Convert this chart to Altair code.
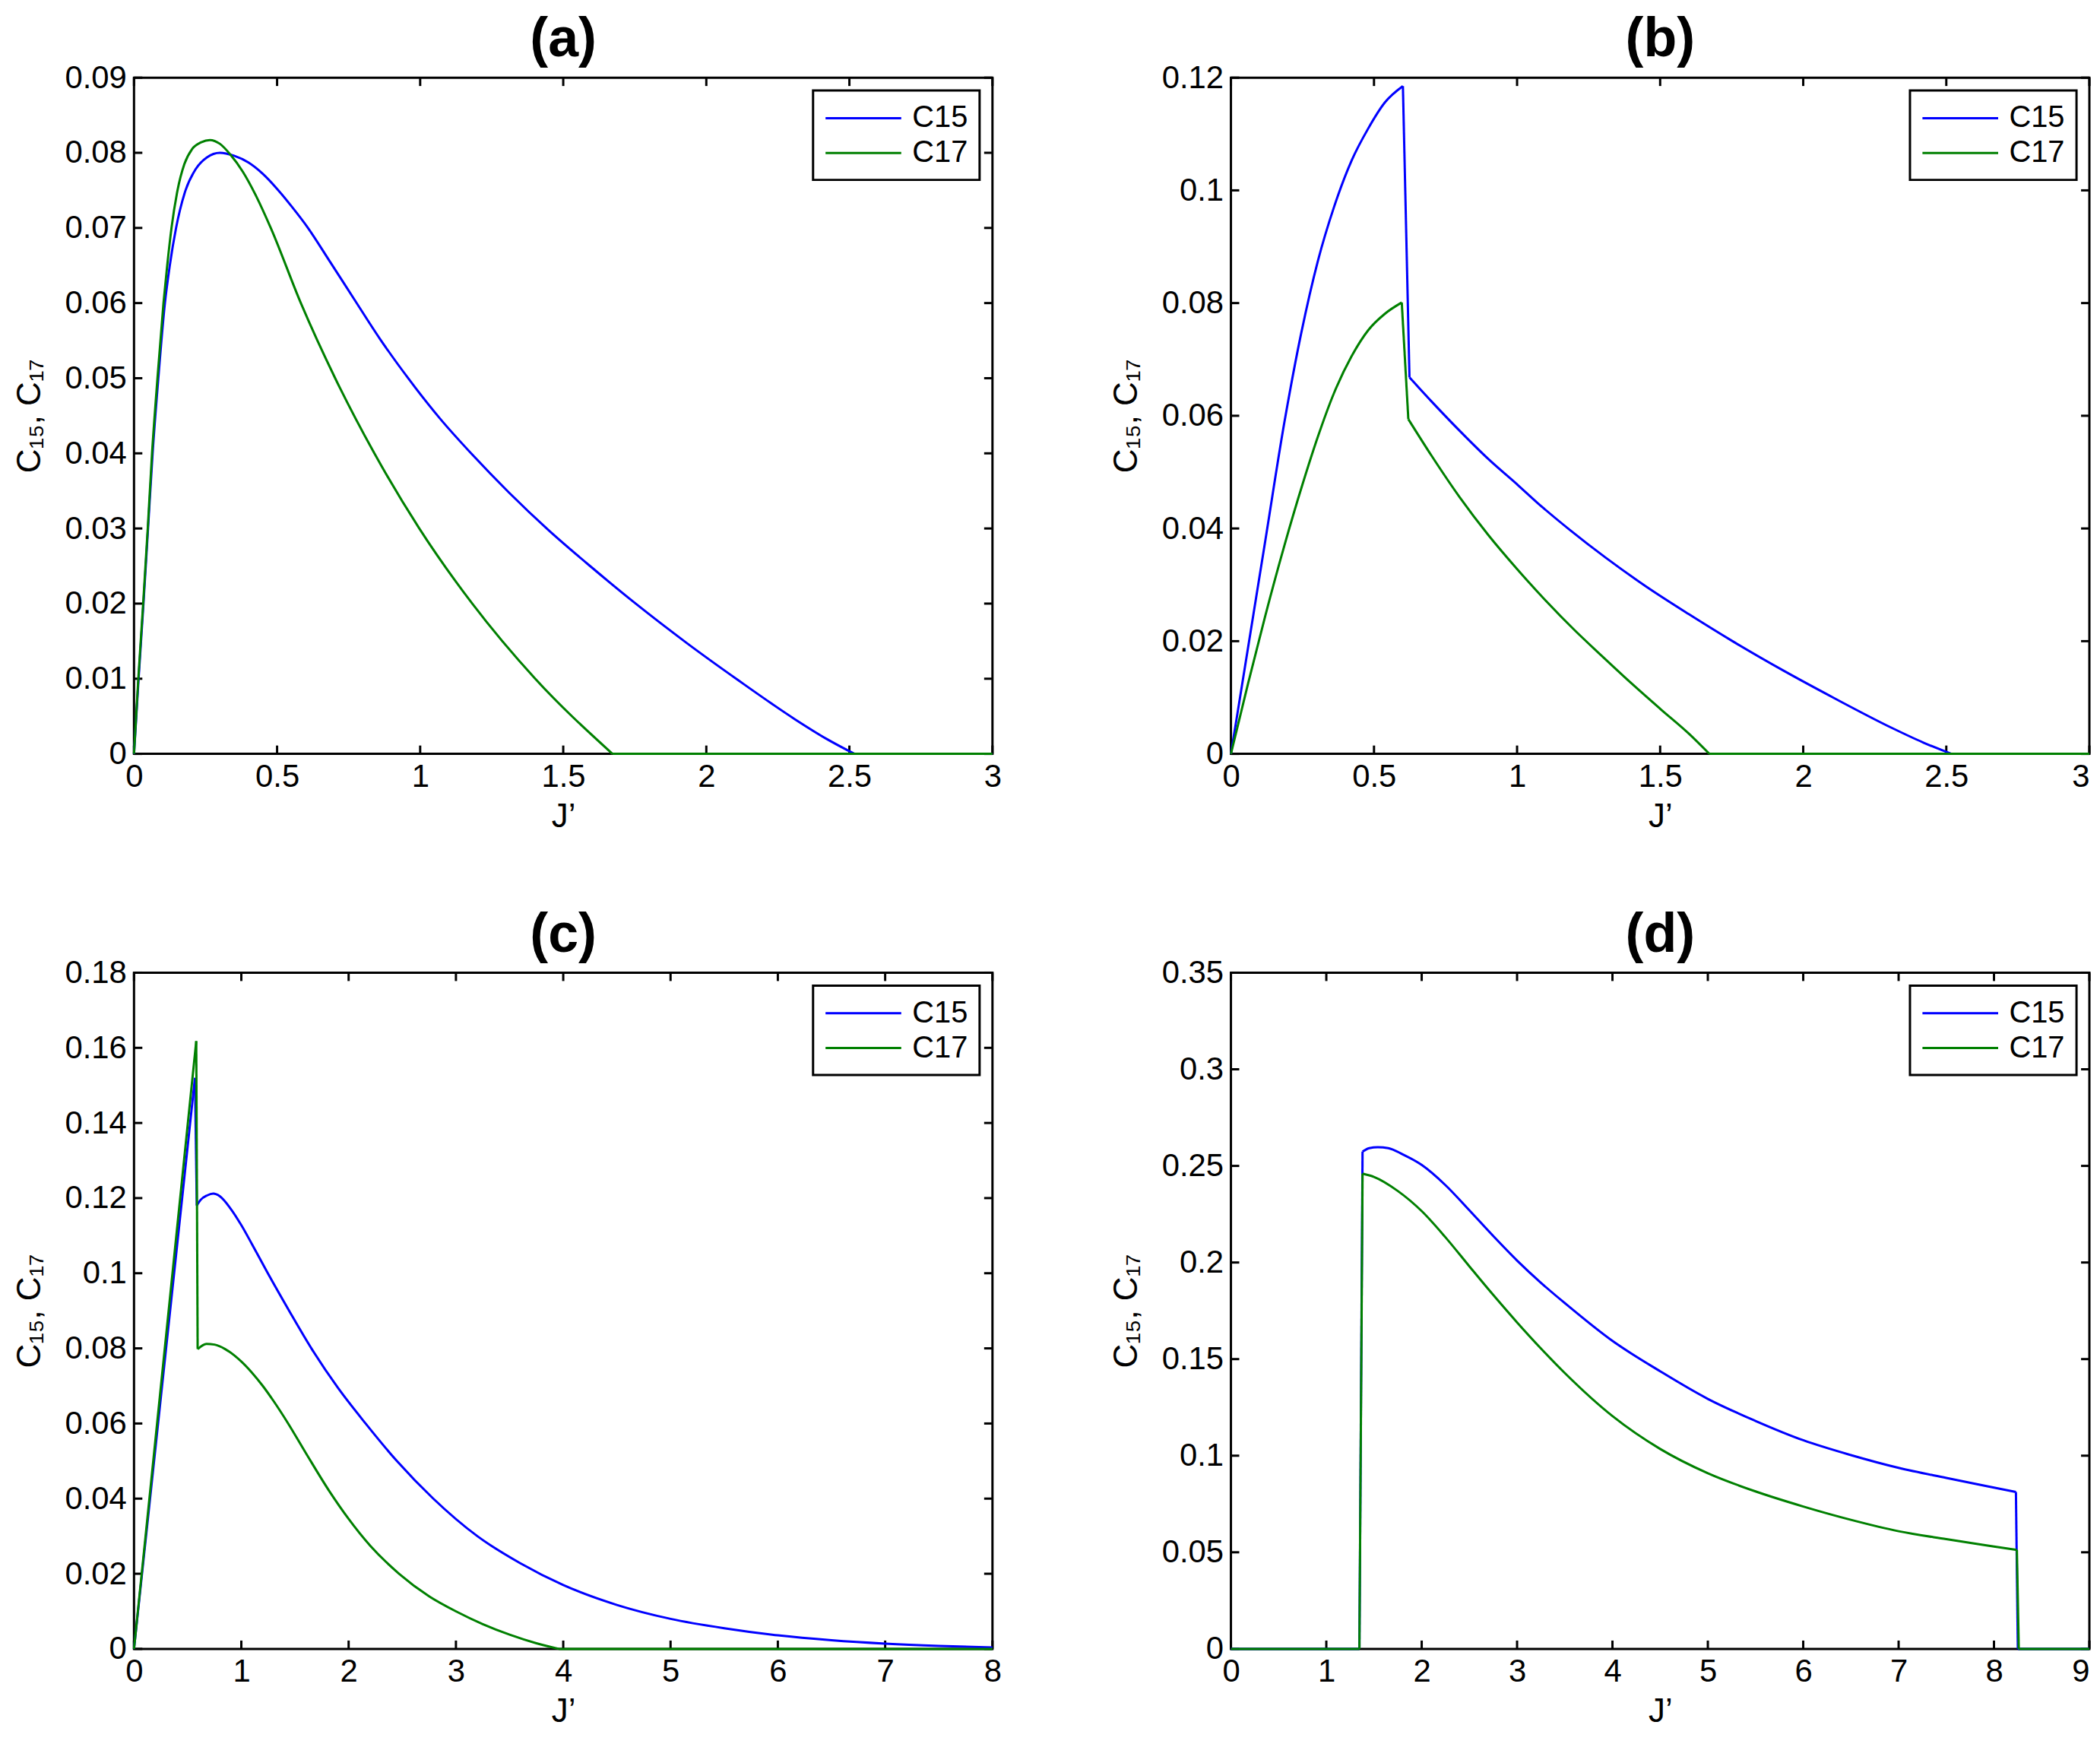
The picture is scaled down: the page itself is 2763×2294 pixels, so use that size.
import altair as alt
import pandas as pd

FONT = "Liberation Sans"
BLUE = "#0000ff"
GREEN = "#008000"
W, H = 1134, 893
TL = 11  # inward tick length

# ---------------- data ----------------
# panel (a)
a15_x = [0, 0.016, 0.033, 0.049, 0.065, 0.085, 0.108, 0.125, 0.147, 0.18, 0.215, 0.255, 0.30, 0.35, 0.40,
         0.45, 0.5, 0.55, 0.608, 0.68, 0.768, 0.86, 0.958, 1.07, 1.183, 1.31, 1.448, 1.6, 1.753, 1.93,
         2.108, 2.31, 2.42, 2.518, 3.0]
a15_y = [0, 0.01, 0.02, 0.03, 0.04, 0.05, 0.06, 0.065, 0.07, 0.075, 0.0778, 0.0794, 0.0800, 0.0796, 0.0787,
         0.0772, 0.0752, 0.0729, 0.0700, 0.0658, 0.0606, 0.0552, 0.0500, 0.0446, 0.0398, 0.0348, 0.0298,
         0.0248, 0.0200, 0.0148, 0.0099, 0.0046, 0.0020, 0, 0]
a15_breaks = [2.518]
a17_x = [0, 0.015, 0.032, 0.048, 0.063, 0.082, 0.103, 0.116, 0.131, 0.152, 0.176, 0.203, 0.235, 0.265, 0.30,
         0.336, 0.38, 0.43, 0.478, 0.583, 0.703, 0.84, 0.997, 1.182, 1.402, 1.672, 3.0]
a17_y = [0, 0.01, 0.02, 0.03, 0.04, 0.05, 0.06, 0.065, 0.07, 0.075, 0.0785, 0.0805, 0.0814, 0.0817, 0.0812,
         0.0798, 0.0775, 0.0740, 0.0700, 0.06, 0.05, 0.04, 0.03, 0.02, 0.01, 0, 0]
a17_breaks = [1.672]

# panel (b)
b15_x = [0, 0.06, 0.12, 0.187, 0.245, 0.304, 0.36, 0.421, 0.48, 0.538, 0.601, 0.624, 0.7, 0.8, 0.9, 1.005,
         1.07, 1.183, 1.31, 1.448, 1.6, 1.753, 1.93, 2.108, 2.31, 2.42, 2.518, 3.0]
b15_y = [0, 0.0189, 0.0378, 0.0589, 0.0745, 0.0875, 0.0970, 0.1052, 0.1110, 0.1156, 0.1185, 0.0668, 0.0626,
         0.0573, 0.0523, 0.0476, 0.0446, 0.0398, 0.0348, 0.0298, 0.0248, 0.0200, 0.0148, 0.0099, 0.0046,
         0.0020, 0, 0]
b15_breaks = [0.601, 0.624, 2.518]
b17_x = [0, 0.06, 0.12, 0.187, 0.25, 0.304, 0.36, 0.421, 0.48, 0.538, 0.597, 0.62, 0.7, 0.8, 0.9, 1.0,
         1.1, 1.2, 1.3, 1.4, 1.5, 1.6, 1.672, 3.0]
b17_y = [0, 0.0125, 0.0245, 0.0370, 0.0478, 0.0563, 0.0640, 0.0705, 0.0752, 0.0781, 0.0801, 0.0594, 0.0530,
         0.0455, 0.0388, 0.0328, 0.0272, 0.0220, 0.0172, 0.0125, 0.0080, 0.0036, 0, 0]
b17_breaks = [0.597, 0.62, 1.672]

# panel (c)
c15_x = [0, 0.1, 0.2, 0.3, 0.4, 0.5, 0.568, 0.585, 0.62, 0.68, 0.738, 0.8, 0.9, 1.0, 1.1, 1.243, 1.45,
         1.653, 1.9, 2.158, 2.45, 2.789, 3.2, 3.6, 4.0, 4.5, 5.0, 5.5, 6.0, 6.5, 7.0, 7.5, 8.0]
c15_y = [0, 0.0268, 0.0535, 0.0803, 0.107, 0.1338, 0.152, 0.118, 0.1195, 0.1207, 0.1212, 0.1205, 0.1172,
         0.1128, 0.1077, 0.1002, 0.0898, 0.0800, 0.0695, 0.0600, 0.0500, 0.0400, 0.0300, 0.0228, 0.0170,
         0.0117, 0.0080, 0.0055, 0.0036, 0.0023, 0.0014, 0.0008, 0.0004]
c15_breaks = [0.568, 0.585]
c17_x = [0, 0.1, 0.2, 0.3, 0.4, 0.5, 0.58, 0.593, 0.675, 0.75, 0.85, 1.0, 1.1, 1.2, 1.3, 1.43, 1.6, 1.82,
         2.0, 2.2, 2.47, 2.75, 3.0, 3.25, 3.5, 3.75, 3.96, 8.0]
c17_y = [0, 0.0279, 0.0558, 0.0837, 0.1116, 0.1395, 0.1618, 0.0798, 0.0812, 0.0810, 0.0798, 0.0765, 0.0735,
         0.0700, 0.0660, 0.0603, 0.0522, 0.0420, 0.0346, 0.0275, 0.0200, 0.0140, 0.0100, 0.0066, 0.0038,
         0.0015, 0, 0]
c17_breaks = [0.58, 0.593, 3.96]

# panel (d)
d15_x = [0, 1.347, 1.38, 1.45, 1.54, 1.65, 1.8, 2.0, 2.25, 2.5, 2.75, 3.0, 3.25, 3.5, 4.0, 4.5, 5.0, 5.5,
         6.0, 6.5, 7.0, 7.5, 8.0, 8.23, 8.25, 9.0]
d15_y = [0, 0, 0.2574, 0.2592, 0.2597, 0.2592, 0.2560, 0.2505, 0.2400, 0.2270, 0.2137, 0.2010, 0.1895,
         0.1790, 0.1594, 0.1437, 0.1294, 0.1180, 0.108, 0.1003, 0.0937, 0.0885, 0.0835, 0.0812, 0, 0]
d15_breaks = [1.347, 1.38, 8.23, 8.25]
d17_x = [0, 1.347, 1.38, 1.5, 1.75, 2.0, 2.25, 2.5, 2.75, 3.0, 3.25, 3.5, 4.0, 4.5, 5.0, 5.5, 6.0, 6.5,
         7.0, 7.5, 8.0, 8.24, 8.26, 9.0]
d17_y = [0, 0, 0.246, 0.2443, 0.237, 0.2266, 0.213, 0.198, 0.1832, 0.1690, 0.1555, 0.1428, 0.1205, 0.1035,
         0.0909, 0.0815, 0.0737, 0.0668, 0.0609, 0.0568, 0.0530, 0.0512, 0, 0]
d17_breaks = [1.347, 1.38, 8.24, 8.26]

# tick values
xt_ab = [0, 0.5, 1, 1.5, 2, 2.5, 3]
xt_c = [0, 1, 2, 3, 4, 5, 6, 7, 8]
xt_d = [0, 1, 2, 3, 4, 5, 6, 7, 8, 9]
yt_a = [0, 0.01, 0.02, 0.03, 0.04, 0.05, 0.06, 0.07, 0.08, 0.09]
yt_b = [0, 0.02, 0.04, 0.06, 0.08, 0.1, 0.12]
yt_c = [0, 0.02, 0.04, 0.06, 0.08, 0.1, 0.12, 0.14, 0.16, 0.18]
yt_d = [0, 0.05, 0.1, 0.15, 0.2, 0.25, 0.3, 0.35]

SERIES = ["C15", "C17"]


def rows_for(name, xs, ys, breaks):
    out, seg = [], 0
    for i, (xv, yv) in enumerate(zip(xs, ys)):
        out.append({"x": xv, "y": yv, "series": name, "seg": seg, "i": i})
        if xv in breaks:
            seg += 1
            out.append({"x": xv, "y": yv, "series": name, "seg": seg, "i": i})
    return out


def panel(title, s15, s17, xt, yt, right_col=False):
    df = pd.DataFrame(rows_for("C15", *s15) + rows_for("C17", *s17))
    xs_ = alt.Scale(domain=[xt[0], xt[-1]], nice=False, zero=False)
    ys_ = alt.Scale(domain=[yt[0], yt[-1]], nice=False, zero=False)
    if right_col:
        # keep the last tick label inside the page at the right edge
        ax_x = alt.Axis(values=xt, format=".2~f", title="J’",
                        labelAlign={"condition": {"test": f"datum.value >= {xt[-1]}", "value": "right"},
                                    "value": "center"})
    else:
        ax_x = alt.Axis(values=xt, format=".2~f", title="J’")
    ax_y = alt.Axis(values=yt, format=".2~f", title="C₁₅, C₁₇")

    frame = alt.Chart(pd.DataFrame({"k": [0]})).mark_rect(
        fill=None, stroke="black", strokeWidth=3
    ).encode(x=alt.value(0), x2=alt.value(W), y=alt.value(0), y2=alt.value(H))

    line = alt.Chart(df).mark_line(strokeWidth=3, interpolate="monotone").encode(
        x=alt.X("x:Q", scale=xs_, axis=ax_x),
        y=alt.Y("y:Q", scale=ys_, axis=ax_y),
        color=alt.Color(
            "series:N",
            scale=alt.Scale(domain=SERIES, range=[BLUE, GREEN]),
            legend=alt.Legend(title=None, orient="top-right", offset=17),
        ),
        detail="seg:N",
        order=alt.Order("i:Q"),
    )
    xdf = pd.DataFrame({"x": xt})
    ydf = pd.DataFrame({"y": yt})
    tb = alt.Chart(xdf).mark_rule(color="black", strokeWidth=3).encode(
        x=alt.X("x:Q", scale=xs_, axis=ax_x), y=alt.value(H), y2=alt.value(H - TL))
    tt = alt.Chart(xdf).mark_rule(color="black", strokeWidth=3).encode(
        x=alt.X("x:Q", scale=xs_, axis=ax_x), y=alt.value(0), y2=alt.value(TL))
    tl = alt.Chart(ydf).mark_rule(color="black", strokeWidth=3).encode(
        y=alt.Y("y:Q", scale=ys_, axis=ax_y), x=alt.value(0), x2=alt.value(TL))
    tr = alt.Chart(ydf).mark_rule(color="black", strokeWidth=3).encode(
        y=alt.Y("y:Q", scale=ys_, axis=ax_y), x=alt.value(W), x2=alt.value(W - TL))
    return alt.layer(frame, tb, tt, tl, tr, line).properties(
        width=W, height=H,
        title=alt.TitleParams(title, fontSize=72, fontWeight="bold", font=FONT, anchor="middle",
                              offset=-8, color="black"),
    )


pa = panel("(a)", (a15_x, a15_y, a15_breaks), (a17_x, a17_y, a17_breaks), xt_ab, yt_a)
pb = panel("(b)", (b15_x, b15_y, b15_breaks), (b17_x, b17_y, b17_breaks), xt_ab, yt_b, right_col=True)
pc = panel("(c)", (c15_x, c15_y, c15_breaks), (c17_x, c17_y, c17_breaks), xt_c, yt_c)
pd_ = panel("(d)", (d15_x, d15_y, d15_breaks), (d17_x, d17_y, d17_breaks), xt_d, yt_d, right_col=True)

chart = alt.concat(pa, pb, pc, pd_, columns=2, spacing={"row": 98, "column": 143}).resolve_scale(
    color="independent", x="independent", y="independent"
).resolve_legend(color="independent").configure(
    padding={"top": 4, "left": 9, "right": 0, "bottom": 0}, background="white"
).configure_view(stroke=None).configure_axis(
    labelFont=FONT, labelFontSize=42, labelColor="black", labelPadding=10, labelFlush=False,
    titleFont=FONT, titleFontSize=44, titleFontWeight="normal", titleColor="black",
    titlePadding=10, tickSize=0, domain=False, grid=False,
).configure_axisY(titlePadding=24).configure_legend(
    labelFont=FONT, labelFontSize=40, labelColor="black", labelOffset=73,
    symbolType="M-1,0H4", symbolStrokeWidth=3, symbolSize=1600,
    strokeColor="black", strokeWidth=3, padding=15, rowPadding=4,
)

chart.save("out.html", embed_options={"renderer": "svg", "actions": False})
